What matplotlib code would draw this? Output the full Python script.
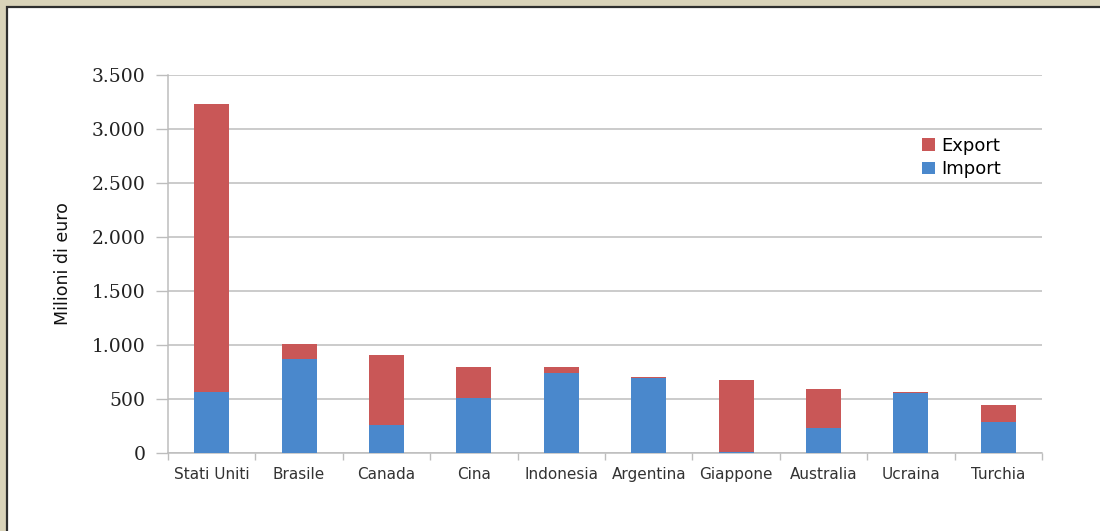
import matplotlib
matplotlib.use("Agg")
import matplotlib.pyplot as plt
from matplotlib.patches import Rectangle, Patch
import numpy as np

countries = ["Stati Uniti", "Brasile", "Canada", "Cina", "Indonesia",
             "Argentina", "Giappone", "Australia", "Ucraina", "Turchia"]
import_vals = [568, 868, 259, 506, 738, 695, 5, 234, 560, 290]
export_vals = [2662, 137, 648, 293, 55, 12, 671, 359, 8, 154]
y_ticks = [0, 500, 1000, 1500, 2000, 2500, 3000, 3500]
y_tick_labels = ["0", "500", "1.000", "1.500", "2.000", "2.500", "3.000", "3.500"]

RED = "#C95757"
BLUE = "#4A88CC"
GRID = "#BDBDBD"

fig = plt.figure(figsize=(11, 5.31), dpi=100)
fig.patch.set_facecolor("#D9D3B9")

# white panel with a dark edge along top and left
fig.patches.append(Rectangle((7 / 1100, -0.05), 1.2, (531 - 7) / 531 + 0.05,
                             transform=fig.transFigure, facecolor="white",
                             edgecolor="#2E2E2E", linewidth=1.6, zorder=-10))

ax = fig.add_axes([168 / 1100, 78 / 531, (1042 - 168) / 1100, (453 - 75) / 531])
ax.set_zorder(5)
ax.set_facecolor("none")

x = np.arange(len(countries))
ax.bar(x, import_vals, width=0.4, color=BLUE, zorder=3)
ax.bar(x, export_vals, width=0.4, bottom=import_vals, color=RED, zorder=3)

ax.set_xlim(-0.5, len(countries) - 0.5)
ax.set_ylim(0, 3500)

ax.set_yticks(y_ticks)
ax.set_yticklabels(y_tick_labels, family="DejaVu Serif", fontsize=13.5, color="#222222")
ax.tick_params(axis="y", length=9, width=1, color=GRID, pad=7)
ax.yaxis.grid(True, color=GRID, linewidth=1.1, zorder=0)
ax.set_axisbelow(True)

ax.set_xticks(x)
ax.set_xticklabels(countries, family="DejaVu Sans", fontsize=11, color="#333333")
ax.tick_params(axis="x", which="major", length=0, pad=10)
ax.set_xticks(np.arange(-0.5, len(countries) + 0.5, 1), minor=True)
ax.tick_params(axis="x", which="minor", length=5, width=1, color=GRID)

for side in ("top", "right"):
    ax.spines[side].set_visible(False)
for side in ("left", "bottom"):
    ax.spines[side].set_color(GRID)
    ax.spines[side].set_linewidth(1.1)

ax.set_ylabel("Milioni di euro", family="DejaVu Sans", fontsize=12.5, color="#111111")
ax.yaxis.set_label_coords(-0.110, 0.5)

handles = [Patch(facecolor=RED, label="Export"), Patch(facecolor=BLUE, label="Import")]
ax.legend(handles=handles, loc="upper left", bbox_to_anchor=(0.855, 0.855),
          frameon=False, fontsize=13, handlelength=0.7, handleheight=0.7,
          handletextpad=0.35, labelspacing=0.3, borderaxespad=0)

fig.savefig("out.png", dpi=100, facecolor=fig.get_facecolor())
